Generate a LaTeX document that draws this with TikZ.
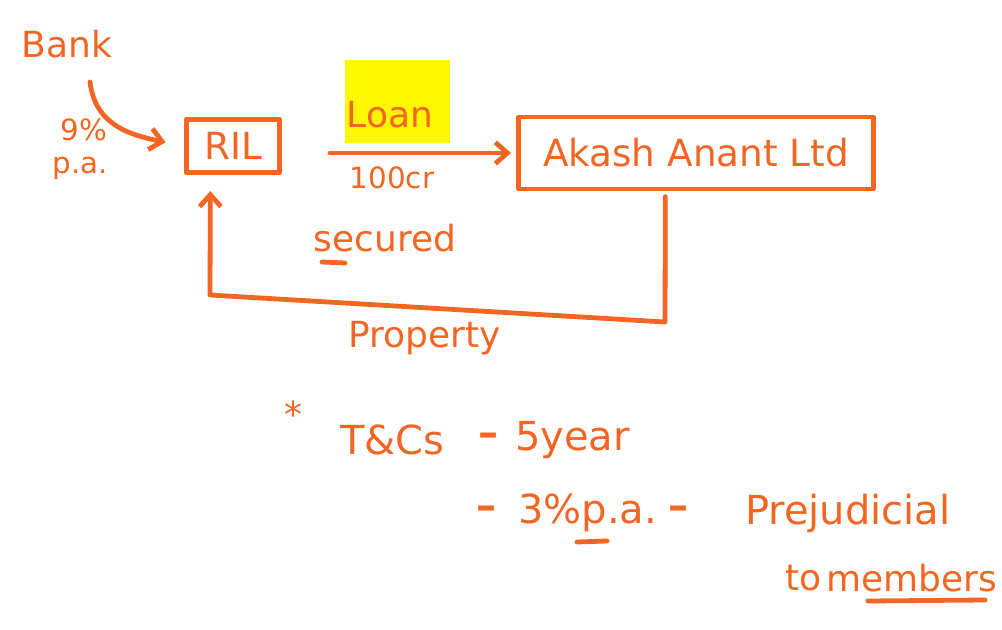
\documentclass[tikz,border=0pt]{standalone}
\usepackage{fontspec}
\setmainfont{DejaVu Sans}
\usetikzlibrary{arrows.meta,calc}
\definecolor{pen}{RGB}{242,101,34}
\definecolor{hl}{RGB}{255,247,0}
\tikzset{
  hw/.style={text=pen, inner sep=0pt, font=\fontsize{27}{31}\selectfont},
  hwbig/.style={text=pen, inner sep=0pt, font=\fontsize{30}{34}\selectfont},
  hwsmall/.style={text=pen, inner sep=0pt, font=\fontsize{22}{26}\selectfont},
  stroke/.style={draw=pen, line width=3.6pt, line cap=round, line join=round},
  arr/.style={stroke, -{Straight Barb[length=9pt,width=16pt,line width=3.6pt]}},
  boxed/.style={stroke, text=pen, inner sep=0pt, font=\fontsize{28}{32}\selectfont}
}
\begin{document}
\begin{tikzpicture}[x=0.75pt,y=-0.75pt]
\useasboundingbox (0,0) rectangle (1002,630);
% highlight
\fill[hl] (345,60) rectangle (450,143);
% nodes
\node[hw] (bank) at (67,44) {Bank};
\node[hwsmall] (nine) at (84,130) {9\%};
\node[hwsmall] (pa) at (80,168) {p.a.};
\node[boxed, minimum width=70pt, minimum height=40pt] (ril) at (233,146) {RIL};
\node[hw] (loan) at (390,115) {Loan};
\node[hwsmall] (amt) at (392,178) {100cr};
\node[boxed, minimum width=266pt, minimum height=54pt] (akash) at (696,153) {Akash Anant Ltd};
\node[hw] (sec) at (385,238) {secured};
\node[hw] (prop) at (425,338) {Property};
\node[hw] (star) at (293,414) {*};
\node[hwbig, anchor=west] (tcs) at (340,440) {T\&Cs};
\node[hwbig, anchor=west] (d1) at (478,440) {\textbf{--}};
\node[hwbig, anchor=west] (yr) at (515,440) {5year};
\node[hwbig, anchor=west] (d2) at (476,513) {\textbf{--}};
\node[hwbig, anchor=west] (rate) at (518,513) {3\%p.a.};
\node[hwbig, anchor=west] (d3) at (668,513) {\textbf{--}};
\node[hwbig, anchor=west] (prej) at (745,513) {Prejudicial};
\node[hw, anchor=west] (to) at (785,578) {to};
\node[hw, anchor=west] (mem) at (826,578) {members};
% coordinates
\coordinate (bstart) at (90,82);
\coordinate (lstart) at (330,153);
\coordinate (c1) at (665,322);
\coordinate (c2) at (210,295);
% connectors
\draw[arr, shorten >=14pt] (bstart) .. controls (95,125) and (130,135) .. (ril.west);
\draw[arr, shorten >=4pt] (lstart) -- (akash.west);
\draw[arr] ([xshift=-23pt,yshift=-4pt]akash.south) -- (c1) -- (c2) -- ([xshift=-17pt,yshift=-12pt]ril.south);
% underlines
\draw[stroke] (322,262) -- (345,263);
\draw[stroke] (577,542) -- (607,541);
\draw[stroke] (868,601) -- (985,600);
\end{tikzpicture}
\end{document}
